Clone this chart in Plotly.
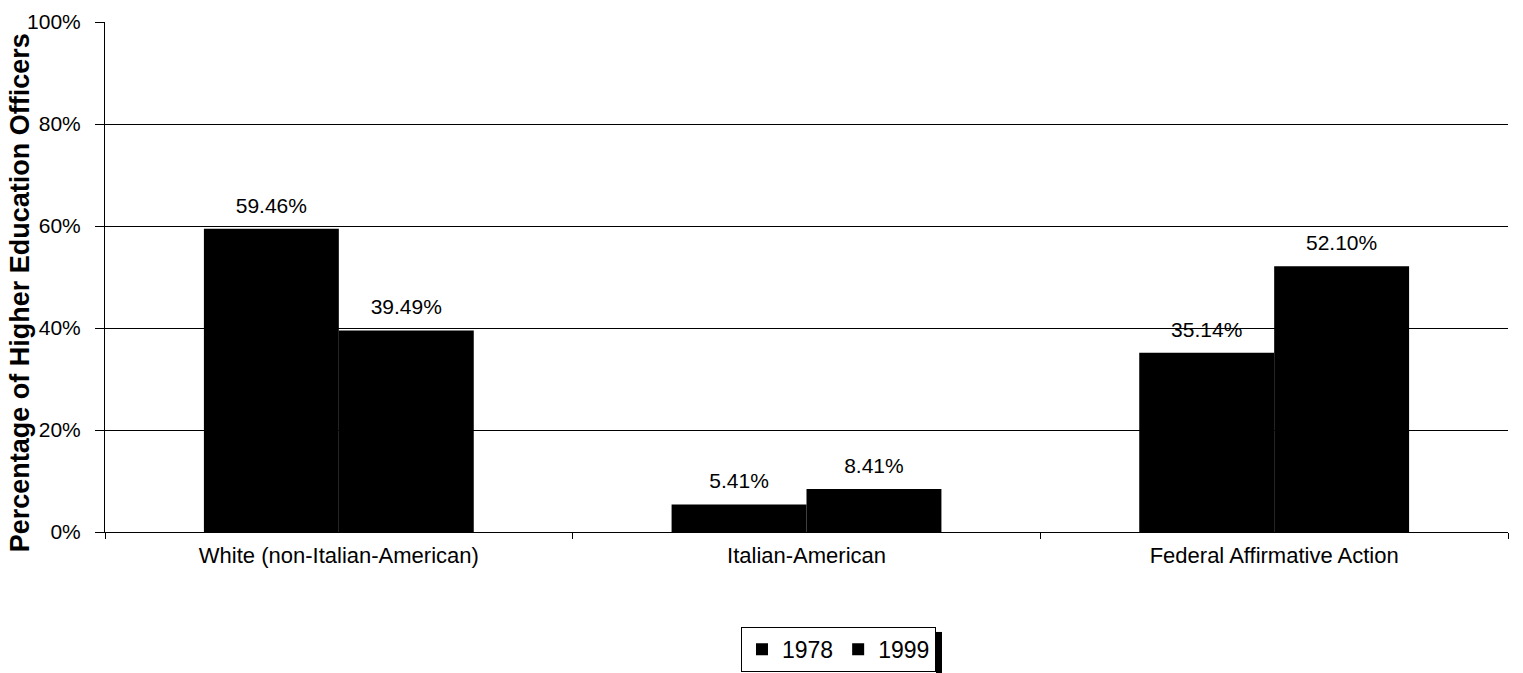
import plotly.graph_objects as go

# Share of higher education officers by group, 1978 vs 1999
categories = ["White (non-Italian-American)", "Italian-American", "Federal Affirmative Action"]
series_names = ["1978", "1999"]
values_1978 = [59.46, 5.41, 35.14]
values_1999 = [39.49, 8.41, 52.10]
y_tick_values = [0, 20, 40, 60, 80, 100]
y_tick_labels = ["0%", "20%", "40%", "60%", "80%", "100%"]

FONT = "Liberation Sans, Arial, Helvetica, sans-serif"
GAP = 0.423

fig = go.Figure()

for name, vals in zip(series_names, [values_1978, values_1999]):
    fig.add_trace(go.Bar(
        x=categories, y=vals, name=name,
        marker=dict(color="black", line=dict(width=0)),
        offsetgroup=name,
    ))

# value labels, grouped the same way as the bars so each sits over its bar
for name, vals in zip(series_names, [values_1978, values_1999]):
    fig.add_trace(go.Scatter(
        x=categories, y=vals, mode="markers+text",
        text=[f"{v:.2f}%" for v in vals],
        textposition="top center",
        textfont=dict(family=FONT, size=21, color="black"),
        marker=dict(size=16, color="rgba(0,0,0,0)"),
        showlegend=False, hoverinfo="skip", cliponaxis=False,
        offsetgroup=name,
    ))

fig.update_layout(
    width=1523, height=673,
    margin=dict(l=105, r=15, t=22, b=141, autoexpand=False),
    plot_bgcolor="white", paper_bgcolor="white",
    barmode="group", bargap=GAP, bargroupgap=0,
    scattermode="group", scattergap=GAP,
    font=dict(family=FONT, color="black"),
    showlegend=True,
    legend=dict(
        orientation="h", x=0.5228, xanchor="center", y=-0.186, yanchor="top",
        font=dict(family=FONT, size=23, color="black"),
        bgcolor="white", bordercolor="black", borderwidth=1,
        itemwidth=30, traceorder="normal",
    ),
    xaxis=dict(
        showgrid=False, showline=True, linecolor="black", linewidth=1,
        ticks="outside", ticklen=6, tickcolor="black", tickson="boundaries",
        tickfont=dict(family=FONT, size=22, color="black"),
        ticklabelstandoff=4,
    ),
    yaxis=dict(
        range=[0, 100], tickvals=y_tick_values, ticktext=y_tick_labels,
        showgrid=True, gridcolor="black", gridwidth=1,
        showline=True, linecolor="black", linewidth=1,
        ticks="outside", ticklen=9, tickcolor="black",
        tickfont=dict(family=FONT, size=21, color="black"),
        ticklabelstandoff=10, zeroline=False,
    ),
    annotations=[dict(
        text="<b>Percentage of Higher Education Officers</b>",
        xref="paper", yref="paper", x=-0.0606, y=0.47,
        xanchor="center", yanchor="middle", textangle=-90,
        showarrow=False, font=dict(family=FONT, size=27, color="black"),
    )],
    shapes=[dict(
        type="rect", xref="paper", yref="paper",
        x0=0.5923, x1=0.5966, y0=-0.28, y1=-0.196,
        fillcolor="black", line=dict(width=0),
    )],
)

fig.write_html("out.html")
